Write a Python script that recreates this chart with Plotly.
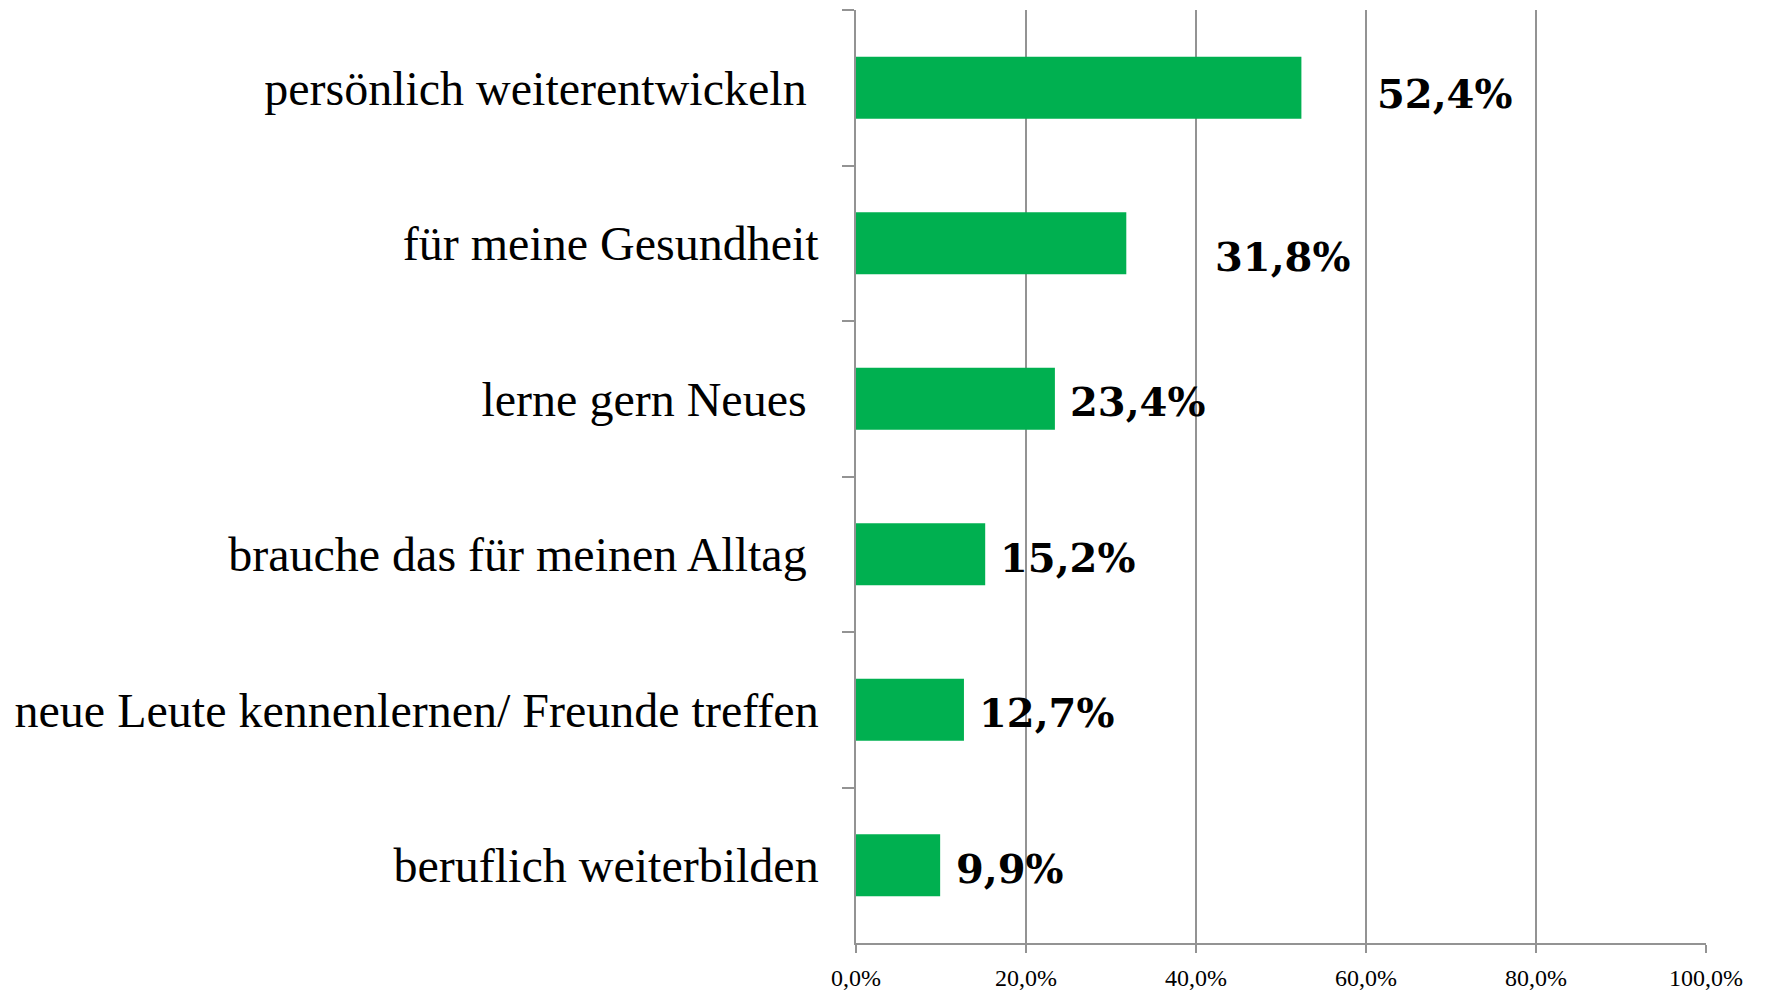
import plotly.graph_objects as go

categories = [
    "persönlich weiterentwickeln ",
    "für meine Gesundheit",
    "lerne gern Neues ",
    "brauche das für meinen Alltag ",
    "neue Leute kennenlernen/ Freunde treffen",
    "beruflich weiterbilden",
]
values = [52.4, 31.8, 23.4, 15.2, 12.7, 9.9]
value_labels = ["52,4%", "31,8%", "23,4%", "15,2%", "12,7%", "9,9%"]
tick_vals = [0, 20, 40, 60, 80, 100]
tick_text = ["0,0%", "20,0%", "40,0%", "60,0%", "80,0%", "100,0%"]

# label placement offsets (pixels) for the data labels
label_xshift = [74, 87, 13, 13, 13, 14]
label_yshift = [-6, -13, -3, -3, -3, -3]

GREEN = "#00B050"
GRID = "#939393"
SERIF = "Liberation Serif, DejaVu Serif, serif"

fig = go.Figure(
    go.Bar(
        y=categories,
        x=values,
        orientation="h",
        marker=dict(color=GREEN, line=dict(width=0)),
        width=0.4,
        hoverinfo="skip",
    )
)

for cat, v, lab, dx, dy in zip(categories, values, value_labels, label_xshift, label_yshift):
    fig.add_annotation(
        x=v, y=cat, text="<b>" + lab + "</b>", showarrow=False,
        xanchor="left", yanchor="middle", xshift=dx, yshift=dy,
        font=dict(family="DejaVu Serif, serif", size=40, color="#000000"),
    )

fig.update_layout(
    width=1770, height=991,
    margin=dict(l=848, r=72, t=2, b=56),
    paper_bgcolor="white", plot_bgcolor="white",
    showlegend=False,
    font=dict(family=SERIF, color="#000000"),
)
fig.update_xaxes(
    range=[0, 100], tickvals=tick_vals, ticktext=tick_text,
    showgrid=True, gridcolor=GRID, gridwidth=1.5,
    showline=True, linecolor=GRID, linewidth=1.5,
    ticks="outside", ticklen=8, tickcolor=GRID, tickwidth=1.5,
    ticklabelstandoff=4,
    tickfont=dict(family=SERIF, size=24, color="#000000"),
    zeroline=False, fixedrange=True,
)
fig.update_yaxes(
    autorange="reversed", type="category",
    showline=True, linecolor=GRID, linewidth=1.5,
    ticks="outside", ticklen=12, tickcolor=GRID, tickwidth=1.5,
    tickson="boundaries", showgrid=False,
    ticklabelstandoff=26,
    tickfont=dict(family=SERIF, size=48, color="#000000"),
    fixedrange=True,
)

fig.write_html("out.html")
